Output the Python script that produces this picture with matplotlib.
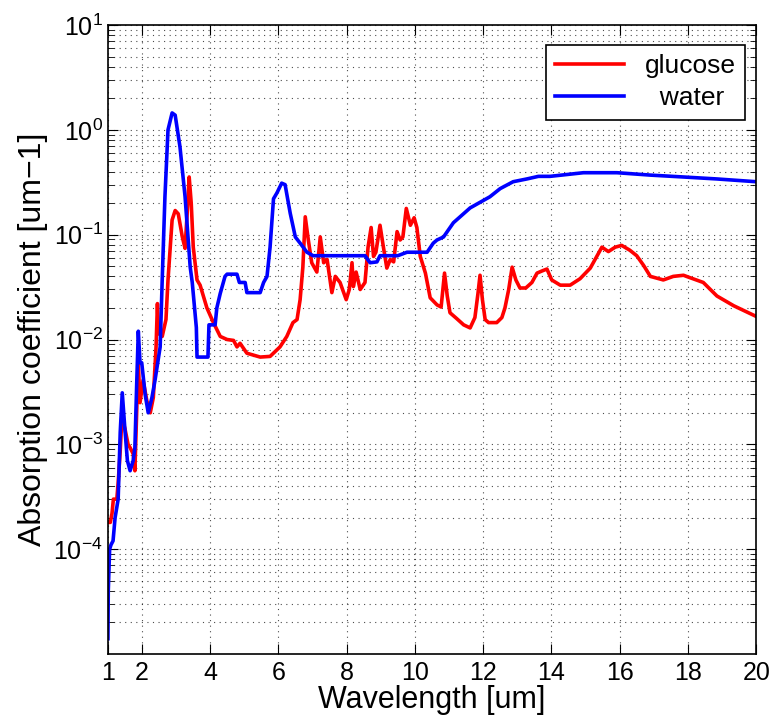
import numpy as np
import matplotlib
matplotlib.use("Agg")
import matplotlib.pyplot as plt
from matplotlib.ticker import LogLocator, NullFormatter, FixedLocator, LogFormatterSciNotation

plt.rcParams["font.family"] = ["Liberation Sans", "DejaVu Sans"]
plt.rcParams["mathtext.fontset"] = "custom"
plt.rcParams["mathtext.rm"] = "Liberation Sans"
plt.rcParams["mathtext.it"] = "Liberation Sans:italic"
plt.rcParams["mathtext.default"] = "regular"

# water absorption
water_x = [1.01, 1.02, 1.06, 1.10, 1.16, 1.22, 1.31, 1.37, 1.43, 1.50, 1.58, 1.66,
           1.75, 1.80, 1.85, 1.90, 1.95, 2.00, 2.10, 2.19, 2.30, 2.39, 2.54, 2.60,
           2.68, 2.77, 2.89, 2.98, 3.12, 3.27, 3.42, 3.48, 3.60, 3.62, 3.94, 3.97,
           4.15, 4.20, 4.30, 4.44, 4.50, 4.79, 4.86, 5.03, 5.08, 5.47, 5.57, 5.67,
           5.76, 5.86, 5.96, 6.10, 6.20, 6.35, 6.50, 6.64, 6.84, 7.02, 8.54, 8.69,
           8.89, 8.98, 9.50, 9.77, 10.36, 10.54, 10.65, 10.84, 11.13, 11.62, 12.2,
           12.5, 12.88, 13.28, 13.62, 13.96, 14.94, 15.92, 16.9, 17.87, 18.85, 20.0]
water_y = [1.4e-5, 4.0e-5, 1.0e-4, 1.1e-4, 1.2e-4, 2.0e-4, 3.0e-4, 1.3e-3, 3.1e-3,
           1.5e-3, 7.0e-4, 5.6e-4, 7.0e-4, 9.3e-4, 3.5e-3, 1.2e-2, 6.0e-3, 6.0e-3,
           3.0e-3, 2.0e-3, 2.8e-3, 4.1e-3, 8.5e-3, 3.7e-2, 0.23, 1.0, 1.45, 1.38,
           0.69, 0.23, 0.049, 0.035, 0.013, 0.0068, 0.0068, 0.0138, 0.0138, 0.020,
           0.0275, 0.040, 0.042, 0.042, 0.035, 0.035, 0.028, 0.028, 0.035, 0.040,
           0.076, 0.22, 0.25, 0.31, 0.30, 0.16, 0.095, 0.083, 0.068, 0.063, 0.063,
           0.054, 0.055, 0.063, 0.063, 0.068, 0.068, 0.083, 0.089, 0.095, 0.13,
           0.18, 0.23, 0.275, 0.32, 0.34, 0.36, 0.36, 0.39, 0.39, 0.37, 0.355,
           0.34, 0.32]

# glucose absorption
glucose_x = [1.02, 1.08, 1.13, 1.17, 1.27, 1.31, 1.37, 1.42, 1.51, 1.60, 1.66, 1.75,
             1.80, 1.86, 1.90, 1.95, 2.04, 2.15, 2.25, 2.34, 2.42, 2.46, 2.49, 2.60,
             2.71, 2.77, 2.89, 2.98, 3.07, 3.19, 3.27, 3.33, 3.39, 3.45, 3.51, 3.62,
             3.71, 3.91, 4.10, 4.30, 4.50, 4.69, 4.79, 4.88, 5.08, 5.47, 5.76, 6.05,
             6.25, 6.43, 6.55, 6.64, 6.72, 6.79, 6.88, 6.98, 7.13, 7.23, 7.33, 7.43,
             7.57, 7.67, 7.81, 7.99, 8.08, 8.16, 8.20, 8.28, 8.40, 8.54, 8.63, 8.72,
             8.79, 8.86, 8.98, 9.08, 9.18, 9.28, 9.38, 9.48, 9.57, 9.65, 9.75, 9.87,
             9.98, 10.06, 10.16, 10.31, 10.45, 10.65, 10.77, 10.87, 10.95, 11.03,
             11.23, 11.43, 11.62, 11.76, 11.85, 11.91, 11.98, 12.06, 12.16, 12.40,
             12.55, 12.64, 12.75, 12.85, 12.96, 13.08, 13.25, 13.43, 13.58, 13.72,
             13.87, 14.01, 14.26, 14.55, 14.84, 15.14, 15.33, 15.48, 15.67, 15.87,
             16.06, 16.3, 16.5, 16.7, 16.9, 17.28, 17.57, 17.87, 18.05, 18.45, 18.85,
             19.34, 20.0]
glucose_y = [1.8e-4, 1.8e-4, 2.2e-4, 3.0e-4, 3.0e-4, 4.3e-4, 8.7e-4, 1.8e-3, 1.4e-3,
             1.0e-3, 9.3e-4, 8.1e-4, 5.6e-4, 2.5e-3, 5.9e-3, 2.5e-3, 4.1e-3, 2.6e-3,
             2.0e-3, 2.8e-3, 8.5e-3, 2.2e-2, 1.15e-2, 1.07e-2, 1.55e-2, 3.7e-2, 0.138,
             0.17, 0.158, 0.095, 0.074, 0.158, 0.355, 0.20, 0.076, 0.037, 0.033, 0.020,
             0.0145, 0.0107, 0.010, 0.0098, 0.0085, 0.0092, 0.0074, 0.0068, 0.0069,
             0.0085, 0.0107, 0.0145, 0.0155, 0.024, 0.049, 0.148, 0.089, 0.054, 0.044,
             0.095, 0.054, 0.058, 0.028, 0.040, 0.035, 0.024, 0.030, 0.054, 0.032,
             0.044, 0.030, 0.035, 0.076, 0.117, 0.062, 0.068, 0.123, 0.076, 0.048,
             0.058, 0.055, 0.107, 0.089, 0.095, 0.178, 0.123, 0.145, 0.117, 0.062,
             0.043, 0.025, 0.0214, 0.0204, 0.043, 0.026, 0.018, 0.0158, 0.0138,
             0.0129, 0.0162, 0.0275, 0.041, 0.024, 0.0155, 0.0145, 0.0145, 0.0162,
             0.020, 0.030, 0.049, 0.037, 0.031, 0.031, 0.035, 0.043, 0.045, 0.047,
             0.037, 0.033, 0.033, 0.038, 0.048, 0.062, 0.076, 0.069, 0.076, 0.079,
             0.071, 0.063, 0.051, 0.040, 0.037, 0.040, 0.041, 0.039, 0.035, 0.026,
             0.021, 0.0166]

xticks = [1, 2, 4, 6, 8, 10, 12, 14, 16, 18, 20]
yticks = [1e-4, 1e-3, 1e-2, 1e-1, 1e0, 1e1]

fig = plt.figure(figsize=(7.74, 7.27), dpi=100)
ax = fig.add_axes([0.139, 0.1004, 0.838, 0.8652])

ax.plot(glucose_x, glucose_y, color="#ff0000", lw=2.6, label="glucose")
ax.plot(water_x, water_y, color="#0000ff", lw=2.6, label="  water")

ax.set_yscale("log")
ax.set_xlim(1, 20)
ax.set_ylim(1e-5, 1e1)
ax.xaxis.set_major_locator(FixedLocator(xticks))
ax.yaxis.set_major_locator(FixedLocator(yticks))
ax.yaxis.set_major_formatter(LogFormatterSciNotation())
ax.yaxis.set_minor_locator(LogLocator(base=10, subs=np.arange(2, 10), numticks=20))
ax.yaxis.set_minor_formatter(NullFormatter())

ax.grid(True, which="major", axis="both", linestyle=(0, (1, 4)), color="k", lw=0.8, alpha=0.7)
ax.grid(True, which="minor", axis="y", linestyle=(0, (1, 4)), color="k", lw=0.8, alpha=0.7)

ax.tick_params(which="both", direction="in", top=True, right=True, labelsize=18)
ax.tick_params(which="major", length=7, width=0.8)
ax.tick_params(which="minor", length=4, width=0.6)
ax.tick_params(axis="x", pad=5)
for s in ax.spines.values():
    s.set_linewidth(1.2)

ax.set_xlabel("Wavelength [um]", fontsize=22, labelpad=0)
ax.set_ylabel("Absorption coefficient [um\u22121]", fontsize=23, labelpad=4)

leg = ax.legend(loc="upper right", bbox_to_anchor=(0.983, 0.968), borderaxespad=0,
                fontsize=19, fancybox=False, edgecolor="k", framealpha=1,
                handlelength=2.6, handletextpad=0.8, borderpad=0.35, labelspacing=0.3)
leg.get_frame().set_linewidth(1.2)

fig.savefig("out.png", dpi=100)
